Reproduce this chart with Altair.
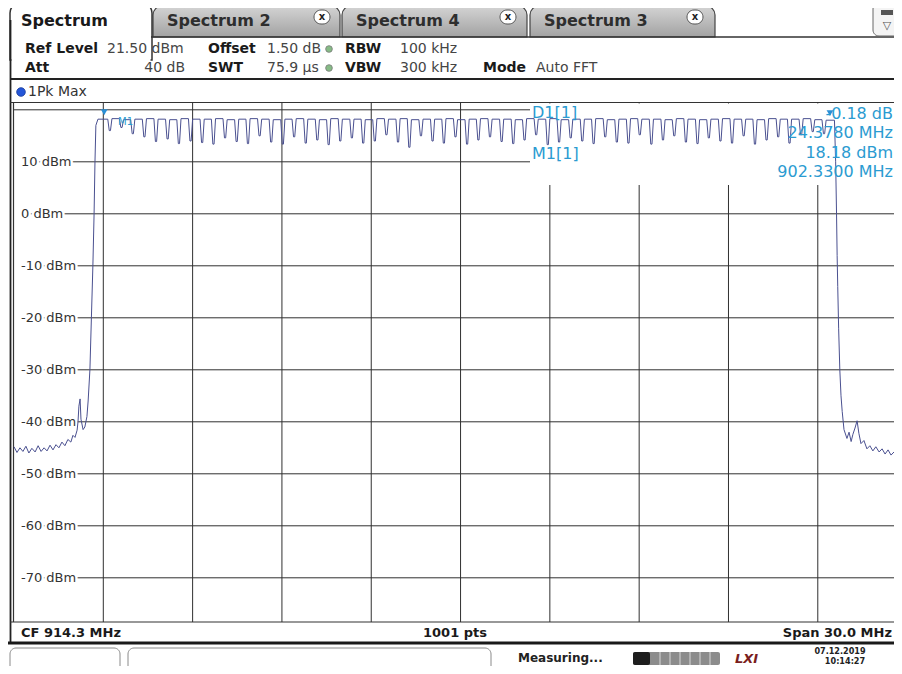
import altair as alt
import pandas as pd

# ---------------- values ----------------
# left skirt (MHz, dBm)
left_freq = [899.30, 899.40, 899.50, 899.60, 899.70, 899.80, 899.90, 900.01, 900.11, 900.21,
             900.31, 900.41, 900.51, 900.61, 900.71, 900.81, 900.91, 901.01, 901.11, 901.21,
             901.28, 901.35, 901.42, 901.45, 901.48, 901.52, 901.55, 901.62, 901.68, 901.75,
             901.79, 901.85, 901.90, 901.95, 901.99, 902.02, 902.05, 902.12]
left_level = [-44.8, -45.9, -45.0, -45.7, -44.7, -46.0, -45.1, -45.8, -44.6, -45.7,
              -45.0, -45.6, -44.5, -45.4, -44.4, -45.0, -43.9, -44.6, -43.4, -43.9,
              -42.6, -43.0, -41.6, -40.0, -37.0, -35.6, -39.5, -41.5, -41.0, -39.0,
              -36.0, -30.0, -20.0, -10.0, 0.0, 10.0, 17.0, 18.2]

# notches of the hopping comb (MHz, dBm at the bottom of each notch)
dip_freq = [902.52, 902.91, 903.29, 903.68, 904.07, 904.46, 904.84, 905.23, 905.62, 906.00,
            906.39, 906.78, 907.16, 907.55, 907.94, 908.33, 908.71, 909.10, 909.49, 909.87,
            910.26, 910.65, 911.03, 911.42, 911.81, 912.20, 912.58, 912.97, 913.36, 913.74,
            914.13, 914.52, 914.90, 915.29, 915.68, 916.07, 916.45, 916.84, 917.23, 917.61,
            918.00, 918.39, 918.77, 919.16, 919.55, 919.94, 920.32, 920.71, 921.10, 921.48,
            921.87, 922.26, 922.64, 923.03, 923.42, 923.81, 924.19, 924.58, 924.97, 925.35,
            925.74, 926.13, 926.51]
dip_level = [16.0, 16.6, 15.4, 14.8, 13.9, 14.4, 13.5, 14.0, 13.7, 13.4,
             14.6, 13.9, 13.5, 15.0, 13.8, 13.4, 14.8, 13.6, 14.2, 13.3,
             14.0, 14.6, 13.6, 14.0, 15.2, 13.8, 12.8, 15.0, 14.0, 13.6,
             14.8, 13.4, 14.2, 14.8, 13.9, 13.5, 14.2, 15.2, 13.3, 13.8,
             14.6, 14.0, 13.5, 14.8, 13.8, 13.6, 15.2, 13.4, 14.2, 15.0,
             13.8, 13.5, 14.6, 14.0, 13.6, 15.0, 13.4, 14.2, 14.8, 13.6,
             15.2, 15.8, 15.4]
# flat top of each channel (dBm)
plateau_level = [18.2, 18.3, 18.1, 18.2, 18.3, 18.2, 18.1, 18.3, 18.2, 18.2,
                 18.3, 18.1, 18.2, 18.3, 18.2, 18.1, 18.2, 18.3, 18.2, 18.1,
                 18.3, 18.2, 18.2, 18.1, 18.3, 18.2, 18.3, 18.1, 18.2, 18.2,
                 18.3, 18.1, 18.2, 18.3, 18.2, 18.2, 18.1, 18.3, 18.2, 18.3,
                 18.1, 18.2, 18.2, 18.3, 18.1, 18.2, 18.3, 18.2, 18.2, 18.1,
                 18.3, 18.2, 18.1, 18.2, 18.3, 18.2, 18.2, 18.1, 18.3, 18.2,
                 18.2, 18.3, 18.1, 18.0]

# right skirt (MHz, dBm)
right_freq = [926.86, 926.90, 926.93, 926.95, 926.97, 927.00, 927.04, 927.08, 927.12, 927.18,
              927.28, 927.35, 927.42, 927.48, 927.55, 927.62, 927.68, 927.75, 927.85, 927.95,
              928.05, 928.15, 928.25, 928.36, 928.46, 928.56, 928.66, 928.76, 928.86]
right_level = [18.0, 10.0, 0.0, -8.0, -14.0, -22.0, -30.0, -35.0, -38.0, -41.5,
               -43.2, -42.0, -43.8, -42.4, -41.2, -39.8, -42.2, -44.2, -43.6, -45.2,
               -44.6, -45.6, -44.8, -45.8, -45.2, -46.2, -45.4, -46.4, -45.8]

grid_levels = [20, 10, 0, -10, -20, -30, -40, -50, -60, -70]
label_levels = [10, 0, -10, -20, -30, -40, -50, -60, -70]
label_text = ["10 dBm", "0 dBm", "-10 dBm", "-20 dBm", "-30 dBm",
              "-40 dBm", "-50 dBm", "-60 dBm", "-70 dBm"]
grid_freqs = [902.3, 905.3, 908.3, 911.3, 914.3, 917.3, 920.3, 923.3, 926.3]

m1_freq, m1_level = 902.33, 18.18
d1_freq, d1_level = 926.708, 18.00

# ---------------- tables ----------------
assert len(dip_freq) == len(dip_level) == len(plateau_level) - 1
fr, lv = list(left_freq), list(left_level)
for k, (f, d) in enumerate(zip(dip_freq, dip_level)):
    fr += [f - 0.07, f - 0.02, f + 0.02, f + 0.07]
    lv += [plateau_level[k], d, d, plateau_level[k + 1]]
fr += right_freq
lv += right_level
trace = pd.DataFrame({"f": fr, "lvl": lv, "i": list(range(len(fr)))})
hgrid = pd.DataFrame({"lvl": grid_levels})
labels = pd.DataFrame({"lvl": label_levels, "label": label_text})
vgrid = pd.DataFrame({"f": grid_freqs})
markers = pd.DataFrame({"f": [m1_freq, d1_freq], "lvl": [m1_level, d1_level]})

XSC = alt.Scale(domain=[899.3, 928.86], nice=False, zero=False)
YSC = alt.Scale(domain=[-78.5, 21.5], nice=False, zero=False)

ONE = pd.DataFrame({"o": [0]})
X0, Y0 = 14, 102          # page position of plot origin
FONT = "DejaVu Sans"
TEAL = "#2b9bd1"
DARK = "#2a2a2a"


def px(x):
    return x - X0


def py(y):
    return y - Y0


def text(s, x, y, size=14, weight="normal", color="#333", align="left",
         font=FONT, style="normal"):
    return alt.Chart(ONE).mark_text(
        text=s, align=align, baseline="middle", font=font, fontSize=size,
        fontWeight=weight, color=color, fontStyle=style
    ).encode(x=alt.value(px(x)), y=alt.value(py(y)))


def box(x1, y1, x2, y2, fill="white", stroke=None, sw=1.0, **kw):
    props = dict(fill=fill)
    if stroke:
        props.update(stroke=stroke, strokeWidth=sw)
    props.update(kw)
    return alt.Chart(ONE).mark_rect(**props).encode(
        x=alt.value(px(x1)), x2=alt.value(px(x2)),
        y=alt.value(py(y1)), y2=alt.value(py(y2)))


def hline(x1, x2, y, color=DARK, w=1.0):
    return alt.Chart(ONE).mark_rule(color=color, strokeWidth=w).encode(
        x=alt.value(px(x1)), x2=alt.value(px(x2)), y=alt.value(py(y)))


def vline(x, y1, y2, color=DARK, w=1.0):
    return alt.Chart(ONE).mark_rule(color=color, strokeWidth=w).encode(
        x=alt.value(px(x)), y=alt.value(py(y1)), y2=alt.value(py(y2)))


def dot(x, y, color, size, stroke):
    return alt.Chart(ONE).mark_point(
        shape="circle", filled=True, size=size, color=color, stroke=stroke,
        strokeWidth=0.8, opacity=1
    ).encode(x=alt.value(px(x)), y=alt.value(py(y)))


tab_grad = alt.Gradient(
    gradient="linear", x1=0, x2=0, y1=0, y2=1,
    stops=[alt.GradientStop(color="#d4d4d4", offset=0),
           alt.GradientStop(color="#a2a2a2", offset=1)])

layers = []

# ---- tab bar ----
for (x1, x2, name, cx) in [(153, 340, "Spectrum 2", 322),
                           (342, 527, "Spectrum 4", 508),
                           (530, 715, "Spectrum 3", 695)]:
    layers.append(box(x1, 6, x2, 37, fill=tab_grad, stroke="#444", sw=1.2,
                      cornerRadiusTopLeft=9, cornerRadiusTopRight=9))
    layers.append(text(name, x1 + 14, 21, size=16, weight="bold", color="#2e2e2e"))
    layers.append(box(cx - 8, 10, cx + 8, 24, fill="white", stroke="#555", sw=1,
                      cornerRadius=7))
    layers.append(text("x", cx, 16.5, size=10, weight="bold", color="#222", align="center"))
layers.append(box(10, 3, 152, 60, fill="white", stroke="#333", sw=1.5,
                  cornerRadiusTopLeft=10, cornerRadiusTopRight=10))
layers.append(box(11.5, 36, 150.5, 78, fill="white"))
layers.append(text("Spectrum", 21, 21, size=16, weight="bold", color="#1a1a1a"))
layers.append(hline(151, 902, 37, color="#333", w=1.5))
# top-right icon
layers.append(box(873, 3, 906, 36, fill="#f4f4f4", stroke="#666", sw=1, cornerRadius=6))
layers.append(box(881, 10, 893, 15, fill="#555"))
layers.append(text("▽", 887, 26, size=11, color="#555", align="center"))

# ---- header ----
B, V = "#1a1a1a", "#454545"
layers += [
    text("Ref Level", 25, 49, weight="bold", color=B),
    text("21.50 dBm", 107, 49, color=V),
    text("Offset", 208, 49, weight="bold", color=B),
    text("1.50 dB", 267, 49, color=V),
    dot(329, 49, "#86bb86", 45, "#7a7a7a"),
    text("RBW", 345, 49, weight="bold", color=B),
    text("100 kHz", 400, 49, color=V),
    text("Att", 25, 68, weight="bold", color=B),
    text("40 dB", 185, 68, color=V, align="right"),
    text("SWT", 208, 68, weight="bold", color=B),
    text("75.9 µs", 267, 68, color=V),
    dot(329, 68, "#86bb86", 45, "#7a7a7a"),
    text("VBW", 345, 68, weight="bold", color=B),
    text("300 kHz", 400, 68, color=V),
    text("Mode", 483, 68, weight="bold", color=B),
    text("Auto FFT", 536, 68, color=V),
]
layers.append(hline(10, 902, 79, color="#222", w=2))
layers.append(dot(21, 92, "#2456d8", 75, "#173a99"))
layers.append(text("1Pk Max", 28, 92, size=14, color="#333"))

# ---- frame ----
layers.append(vline(10.5, 20, 644, color="#222", w=1.8))
layers.append(hline(10, 902, 102.5, color="#333", w=1.2))
layers.append(hline(10, 902, 622, color="#333", w=1.2))

# ---- grid ----
layers.append(alt.Chart(hgrid).mark_rule(color="#303030", strokeWidth=1).encode(
    y=alt.Y("lvl:Q", scale=YSC, axis=None)))
layers.append(alt.Chart(vgrid).mark_rule(color="#303030", strokeWidth=1).encode(
    x=alt.X("f:Q", scale=XSC, axis=None)))
# marker-info area (hides the grid behind the marker readout)
layers.append(box(530, 103.5, 910, 185, fill="white"))

# ---- level labels inside the plot (white knock-out behind each label) ----
layers.append(alt.Chart(labels).transform_calculate(
    lo="datum.lvl - 1.2", hi="datum.lvl + 1.2").mark_rect(fill="white").encode(
    x=alt.value(0), x2=alt.value(px(24)),
    y=alt.Y("lo:Q", scale=YSC, axis=None), y2="hi:Q"))
layers.append(alt.Chart(labels).mark_text(
    align="left", baseline="middle", font=FONT, fontSize=13, fill="white",
    stroke="white", strokeWidth=5).encode(
    x=alt.value(px(21)), y=alt.Y("lvl:Q", scale=YSC, axis=None), text="label:N"))
layers.append(alt.Chart(labels).mark_text(
    align="left", baseline="middle", font=FONT, fontSize=13, color="#333").encode(
    x=alt.value(px(21)), y=alt.Y("lvl:Q", scale=YSC, axis=None), text="label:N"))
layers.append(vline(13.5, 102, 622, color="#333", w=1.2))

# ---- trace ----
layers.append(alt.Chart(trace).mark_line(color="#4a5090", strokeWidth=1).encode(
    x=alt.X("f:Q", scale=XSC, axis=None),
    y=alt.Y("lvl:Q", scale=YSC, axis=None),
    order="i:Q"))

# ---- markers ----
layers.append(alt.Chart(markers).mark_point(
    shape="triangle-down", filled=True, size=45, color="#2a8fd6", opacity=1,
    yOffset=-7).encode(
    x=alt.X("f:Q", scale=XSC, axis=None), y=alt.Y("lvl:Q", scale=YSC, axis=None)))
layers.append(text("M1", 118, 122, size=10, color=TEAL))

layers += [
    text("D1[1]", 532, 113, size=16, color=TEAL),
    text("M1[1]", 532, 154, size=16, color=TEAL),
    text(f"{d1_level - m1_level:.2f} dB", 893, 114, size=16, color=TEAL, align="right"),
    text(f"{d1_freq - m1_freq:.4f} MHz", 893, 133, size=16, color=TEAL, align="right"),
    text(f"{m1_level:.2f} dBm", 893, 153, size=16, color=TEAL, align="right"),
    text(f"{m1_freq:.4f} MHz", 893, 172, size=16, color=TEAL, align="right"),
]

# ---- bottom strip ----
layers += [
    text("CF 914.3 MHz", 21, 633, size=13, weight="bold", color="#1a1a1a"),
    text("1001 pts", 455, 633, size=13, weight="bold", color="#1a1a1a", align="center"),
    text("Span 30.0 MHz", 892, 633, size=13, weight="bold", color="#1a1a1a", align="right"),
]
layers.append(hline(8, 902, 643, color="#1a1a1a", w=3))

# ---- status bar ----
layers += [
    box(10, 648, 120, 672, fill="white", stroke="#8a8a8a", sw=1, cornerRadius=6),
    box(128, 648, 491, 672, fill="white", stroke="#8a8a8a", sw=1, cornerRadius=6),
    text("Measuring...", 518, 658, size=12, weight="bold", color="#222"),
    box(633, 652, 720, 665, fill="#8c8c8c", cornerRadius=2),
    box(633, 652, 650, 665, fill="#1e1e1e", cornerRadius=2),
]
for sx in [660, 670, 680, 690, 700, 710]:
    layers.append(vline(sx, 652, 665, color="#d8d8d8", w=1))
layers += [
    text("LXI", 735, 659, size=13, weight="bold", color="#7a1e1e", style="italic"),
    text("07.12.2019", 840, 651, size=9, weight="bold", color="#222", align="center",
         font="DejaVu Sans Condensed"),
    text("10:14:27", 845, 661, size=9, weight="bold", color="#222", align="center",
         font="DejaVu Sans Condensed"),
]

chart = alt.layer(*layers).properties(
    width=880, height=520,
    padding={"left": 6, "top": 94, "right": 0, "bottom": 44},
    autosize=alt.AutoSizeParams(type="none"),
    background="white",
).configure_view(stroke=None)

chart.save("out.html", embed_options={"renderer": "svg", "actions": False})
